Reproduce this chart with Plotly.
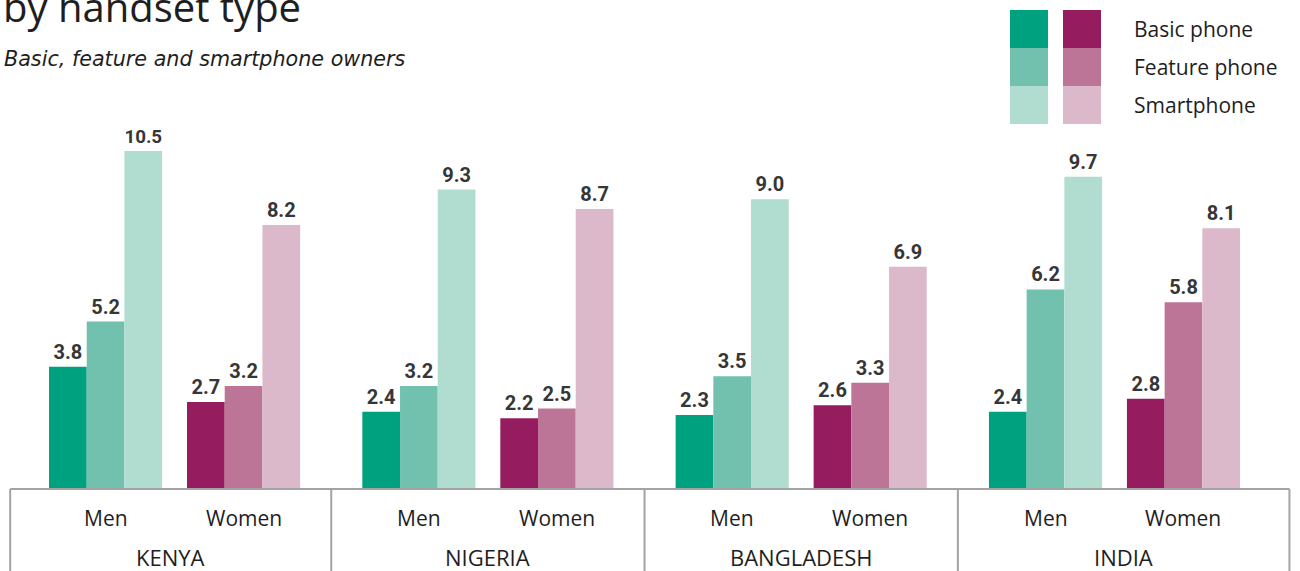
import plotly.graph_objects as go

# ---- data -------------------------------------------------------------
countries = ["KENYA", "NIGERIA", "BANGLADESH", "INDIA"]
genders = ["Men", "Women"]
handsets = ["Basic phone", "Feature phone", "Smartphone"]

men_basic = [3.8, 2.4, 2.3, 2.4]
men_feature = [5.2, 3.2, 3.5, 6.2]
men_smart = [10.5, 9.3, 9.0, 9.7]
women_basic = [2.7, 2.2, 2.6, 2.8]
women_feature = [3.2, 2.5, 3.3, 5.8]
women_smart = [8.2, 8.7, 6.9, 8.1]

men_colors = ["#00a17f", "#71c1ae", "#b1dcd0"]
women_colors = ["#951c5f", "#bc7596", "#dbb9cb"]

# ---- geometry (x in bar-width units) ----------------------------------
W, H = 1300, 571
MARGIN_B = 82
PLOT_H = H - MARGIN_B
CLUSTER_STEP = 3.66      # men cluster start -> women cluster start
COUNTRY_STEP = 8.31      # one country block -> next
X0, X1 = -1.30, 33.18
Y_MAX = 15.19

FONT = "Open Sans, Noto Sans, sans-serif"
NUM_FONT = "Roboto, DejaVu Sans Condensed, sans-serif"
TEXT_COLOR = "#1e1e1e"
FRAME_COLOR = "#a3a3a3"


def bar_x(c, g, t):
    return c * COUNTRY_STEP + g * CLUSTER_STEP + t + 0.5


def xp(x):
    """data x -> paper x"""
    return (x - X0) / (X1 - X0)


def yp(py):
    """pixel row -> paper y (plot area spans rows 0..PLOT_H)"""
    return (PLOT_H - py) / PLOT_H


def px(pxl):
    return pxl / W


series = {
    (0, 0): men_basic, (0, 1): men_feature, (0, 2): men_smart,
    (1, 0): women_basic, (1, 1): women_feature, (1, 2): women_smart,
}

fig = go.Figure()
for (g, t), vals in series.items():
    color = (men_colors if g == 0 else women_colors)[t]
    fig.add_trace(go.Bar(
        x=[bar_x(c, g, t) for c in range(len(countries))],
        y=vals,
        width=1.0,
        marker=dict(color=color, line=dict(width=0)),
        text=[f"{v:.1f}" for v in vals],
        textposition="outside",
        textfont=dict(family=NUM_FONT, size=20, color="#363636", weight="bold"),
        cliponaxis=False,
        name=f"{genders[g]} - {handsets[t]}",
        showlegend=False,
        hoverinfo="skip",
    ))

shapes = []
annotations = []

# frame under the bars: baseline plus country dividers
left_edge = -1.03
right_edge = (len(countries) - 1) * COUNTRY_STEP + CLUSTER_STEP + 3 + 1.31
shapes.append(dict(type="line", xref="paper", yref="paper",
                   x0=xp(left_edge), x1=xp(right_edge), y0=0, y1=0,
                   line=dict(color=FRAME_COLOR, width=2)))
div_x = [left_edge]
for c in range(1, len(countries)):
    prev_end = (c - 1) * COUNTRY_STEP + CLUSTER_STEP + 3
    div_x.append((prev_end + c * COUNTRY_STEP) / 2)
div_x.append(right_edge)
for dx in div_x:
    shapes.append(dict(type="line", xref="paper", yref="paper",
                       x0=xp(dx), x1=xp(dx), y0=0, y1=-MARGIN_B / PLOT_H,
                       line=dict(color=FRAME_COLOR, width=2)))

# gender and country labels
for c, name in enumerate(countries):
    for g, gname in enumerate(genders):
        annotations.append(dict(
            text=gname, xref="paper", yref="paper",
            x=xp(c * COUNTRY_STEP + g * CLUSTER_STEP + 1.5), y=yp(518),
            xanchor="center", yanchor="middle", showarrow=False,
            font=dict(family=FONT, size=21, color=TEXT_COLOR)))
    annotations.append(dict(
        text=name, xref="paper", yref="paper",
        x=(xp(div_x[c]) + xp(div_x[c + 1])) / 2, y=yp(557),
        xanchor="center", yanchor="middle", showarrow=False,
        font=dict(family=FONT, size=22, color=TEXT_COLOR)))

# title and subtitle
annotations.append(dict(
    text="by handset type", xref="paper", yref="paper",
    x=px(1), y=yp(7), xanchor="left", yanchor="middle", showarrow=False,
    font=dict(family=FONT, size=40, color=TEXT_COLOR)))
annotations.append(dict(
    text="<i>Basic, feature and smartphone owners</i>", xref="paper", yref="paper",
    x=px(2), y=yp(59), xanchor="left", yanchor="middle", showarrow=False,
    font=dict(family="DejaVu Sans, sans-serif", size=20.7, color=TEXT_COLOR)))

# legend: two swatch columns (men / women) with shared labels
SW = 38
for t, label in enumerate(handsets):
    top = 10 + t * SW
    for col, colors in enumerate([men_colors, women_colors]):
        left = 1010 + col * 53
        shapes.append(dict(type="rect", xref="paper", yref="paper",
                           x0=px(left), x1=px(left + SW),
                           y0=yp(top + SW), y1=yp(top),
                           fillcolor=colors[t], line=dict(width=0)))
    annotations.append(dict(
        text=label, xref="paper", yref="paper",
        x=px(1132), y=yp(top + SW / 2), xanchor="left", yanchor="middle",
        showarrow=False, font=dict(family=FONT, size=21, color=TEXT_COLOR)))

fig.update_layout(
    width=W, height=H,
    margin=dict(l=0, r=0, t=0, b=MARGIN_B, pad=0),
    paper_bgcolor="white", plot_bgcolor="white",
    barmode="overlay",
    xaxis=dict(range=[X0, X1], visible=False, fixedrange=True),
    yaxis=dict(range=[0, Y_MAX], visible=False, fixedrange=True),
    shapes=shapes,
    annotations=annotations,
    showlegend=False,
)

fig.write_html("out.html")
